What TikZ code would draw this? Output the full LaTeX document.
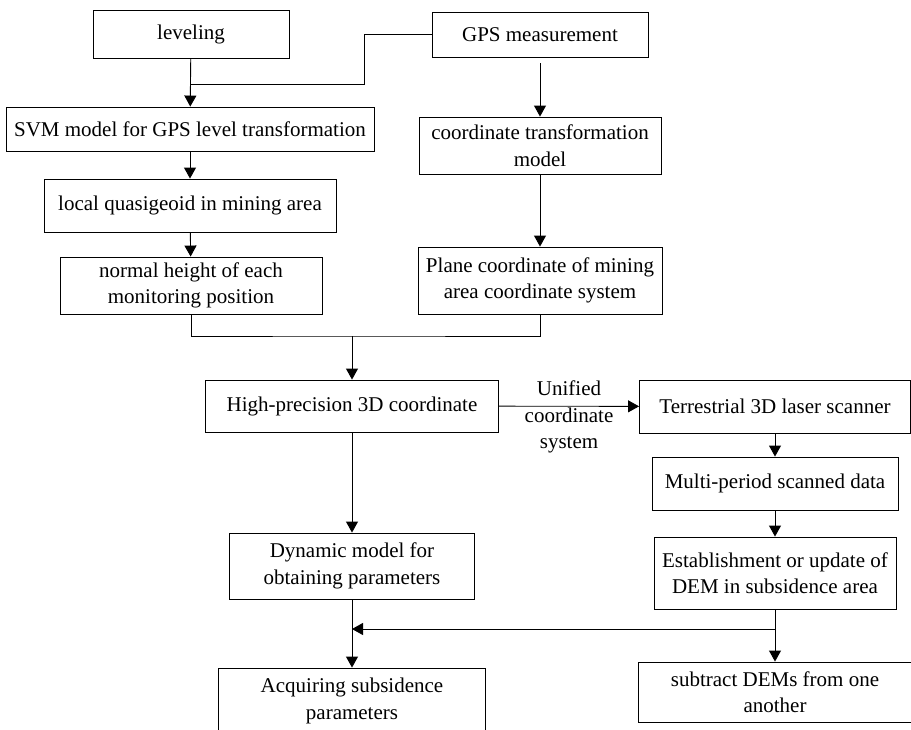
\documentclass[tikz,border=0pt]{standalone}
\usepackage{fontspec}
\setmainfont{Liberation Serif}
\usetikzlibrary{arrows.meta}

\begin{document}
\begin{tikzpicture}[x=1pt,y=-1pt,
  box/.style={draw,line width=0.9pt,inner sep=0pt,align=center,
    font=\fontsize{21}{26.5}\selectfont},
  ln/.style={line width=0.9pt},
  arr/.style={ln,-{Triangle[length=11pt,width=12pt]}}]
% page size
\useasboundingbox (0,0) rectangle (911,729);

% levelling branch
\node[box,minimum width=196pt,minimum height=48pt] (lev) at (191,34) {leveling};
\node[box,minimum width=368pt,minimum height=44pt] (svm) at (190,129) {SVM model for GPS level transformation};
\node[box,minimum width=292pt,minimum height=53pt] (quasi) at (190,205.5) {local quasigeoid in mining area};
\node[box,minimum width=262pt,minimum height=57pt] (norm) at (191,285.5) {normal height of each\\monitoring position};

% GPS branch
\node[box,minimum width=216pt,minimum height=45pt] (gps) at (540,34.5) {GPS measurement};
\node[box,minimum width=242pt,minimum height=57pt] (ctm) at (540,145.5) {coordinate transformation\\model};
\node[box,minimum width=244pt,minimum height=67pt] (plane) at (540,280.5) {Plane coordinate of mining\\area coordinate system};

% middle and bottom
\node[box,minimum width=293pt,minimum height=52pt] (hp) at (352,406) {High-precision 3D coordinate};
\node[box,minimum width=245pt,minimum height=66pt] (dyn) at (352,566) {Dynamic model for\\obtaining parameters};
\node[box,minimum width=267pt,minimum height=66pt] (acq) at (352,701) {Acquiring subsidence\\parameters};

% scanner branch
\node[box,minimum width=271pt,minimum height=53pt] (tls) at (775,406.5) {Terrestrial 3D laser scanner};
\node[box,minimum width=246pt,minimum height=53pt] (mpd) at (775,483.5) {Multi-period scanned data};
\node[box,minimum width=242pt,minimum height=72pt] (dem) at (775,573) {Establishment or update of\\DEM in subsidence area};
\node[box,minimum width=273pt,minimum height=60pt] (sub) at (775,692) {subtract DEMs from one\\another};

% junction points
\coordinate (j1) at (364,84);
\coordinate (j2) at (352,336);
\coordinate (j3) at (352,629);

% arrows of the left column
\draw[arr] (lev) -- (svm);
\draw[ln] (gps.west) -| (j1) -- (j1 -| lev.south);
\draw[arr] (svm) -- (quasi);
\draw[arr] (quasi) -- (norm);

% arrows of the GPS column
\draw[arr,shorten <=6pt] (gps) -- (ctm);
\draw[arr] (ctm) -- (plane);

% join both columns
\draw[ln] (norm.south) |- (j2) -| (plane.south);
\draw[arr] (j2) -- (hp);

% scanner chain
\draw[arr] (hp) -- node[midway,yshift=-11pt,align=center,font=\fontsize{21}{26.5}\selectfont] {Unified\\coordinate\\system} (tls);
\draw[arr] (tls) -- (mpd);
\draw[arr] (mpd) -- (dem);
\draw[arr] (dem) -- (sub);
\draw[arr] (j3 -| dem.south) -- (j3);

% parameter chain
\draw[arr] (hp) -- (dyn);
\draw[arr] (dyn) -- (acq);

\end{tikzpicture}
\end{document}
